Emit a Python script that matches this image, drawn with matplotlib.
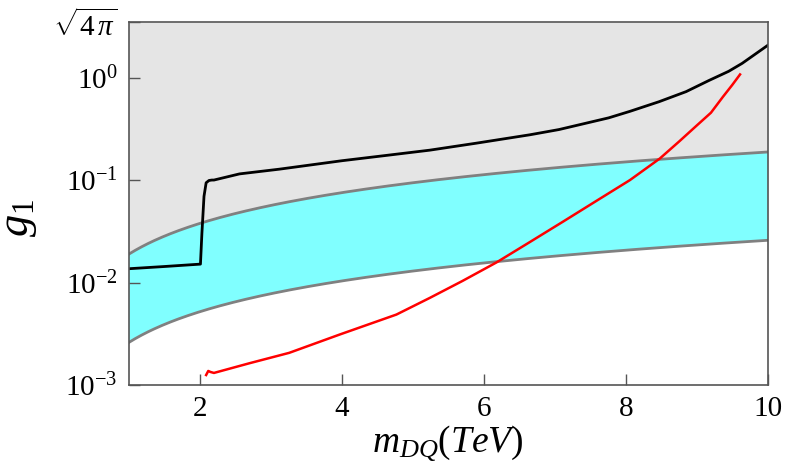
import matplotlib.pyplot as plt
import numpy as np

plt.rcParams['font.family'] = 'Liberation Serif'
plt.rcParams['mathtext.fontset'] = 'custom'
plt.rcParams['mathtext.rm'] = 'Liberation Serif'
plt.rcParams['mathtext.it'] = 'Liberation Serif:italic'

# bande de couplage (bords haut et bas)
m_band = [1, 2, 3, 4, 5, 6, 7, 8, 9, 10]
g_band_haut = [0.019, 0.038, 0.057, 0.076, 0.095, 0.114, 0.133, 0.152, 0.171, 0.19]
g_band_bas = [0.0026, 0.0052, 0.0078, 0.0104, 0.013, 0.0156, 0.0182, 0.0208, 0.0234, 0.026]

# courbe noire
m_noir = [1.0, 1.5, 2.01, 2.03, 2.06, 2.09, 2.13, 2.17, 2.2, 2.56, 3.12, 4.0, 4.6, 5.24,
          5.9, 6.65, 7.06, 7.76, 8.06, 8.47, 8.85, 9.17, 9.45, 9.64, 10.0]
g_noir = [0.0137, 0.0144, 0.0152, 0.03, 0.07, 0.095, 0.1, 0.101, 0.101, 0.116, 0.129, 0.156, 0.175, 0.198,
          0.232, 0.28, 0.315, 0.41, 0.475, 0.59, 0.74, 0.95, 1.17, 1.4, 2.1]

# courbe rouge
m_rouge = [2.09, 2.12, 2.15, 2.2, 2.7, 3.26, 3.97, 4.77, 5.24, 5.7, 6.18, 6.65, 7.12, 7.6,
           8.06, 8.48, 8.75, 9.0, 9.2, 9.37, 9.5, 9.61]
g_rouge = [0.00125, 0.00137, 0.00134, 0.00131, 0.00163, 0.00206, 0.00311, 0.00488, 0.0071, 0.0104, 0.0158,
           0.025, 0.0397, 0.064, 0.101, 0.164, 0.24, 0.345, 0.46, 0.66, 0.86, 1.09]

g_max = np.sqrt(4 * np.pi)
xticks = [2, 4, 6, 8, 10]
yticks = [1e-3, 1e-2, 1e-1, 1e0, g_max]
ylabels = [r'$10^{-3}$', r'$10^{-2}$', r'$10^{-1}$', r'$10^{0}$', r'$\sqrt{4\,\pi}$']

fig = plt.figure(figsize=(7.85, 4.7), dpi=100)
ax = fig.add_axes([0.164, 0.181, 0.814, 0.772])

m_fin = np.linspace(1, 10, 400)
haut = np.interp(m_fin, m_band, g_band_haut)
bas = np.interp(m_fin, m_band, g_band_bas)

ax.fill_between(m_fin, haut, g_max, color='#e5e5e5', lw=0)
ax.fill_between(m_fin, bas, haut, color='#80ffff', lw=0)
ax.plot(m_fin, haut, color='#808080', lw=2)
ax.plot(m_fin, bas, color='#808080', lw=2)

ax.plot(m_noir, g_noir, color='black', lw=2)
ax.plot(m_rouge, g_rouge, color='red', lw=1.8)

ax.set_yscale('log')
ax.set_xlim(1, 10)
ax.set_ylim(1e-3, g_max)
ax.set_xticks(xticks)
ax.set_yticks(yticks)
ax.set_yticklabels(ylabels)
ax.minorticks_off()
ax.tick_params(direction='in', length=8, width=1, color='#555555', labelsize=21)
ax.tick_params(axis='x', pad=8)
ax.tick_params(axis='y', pad=8)

for s in ax.spines.values():
    s.set_color('#555555')
    s.set_linewidth(1.2)

ax.set_xlabel(r'$m_{DQ}(TeV)$', fontsize=27, labelpad=1)
ax.set_ylabel(r'$g_1$', fontsize=32)
ax.yaxis.set_label_coords(-0.14, 0.46)

plt.savefig('out.png', dpi=100)
